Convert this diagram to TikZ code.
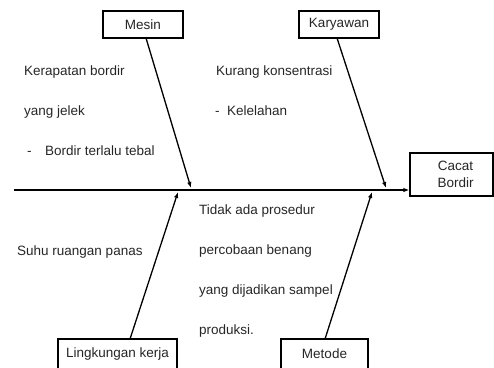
\documentclass[tikz,border=0pt]{standalone}
\usepackage{fontspec}
\setmainfont{Liberation Sans}
\usetikzlibrary{arrows.meta,calc}
\begin{document}
\begin{tikzpicture}[x=1pt,y=-1pt,
  catbox/.style={draw=black,line width=1.3pt,fill=white,inner sep=0pt,align=center,
     font=\fontsize{13.5}{16.5}\selectfont,text=black!85},
  lbl/.style={anchor=base west,inner sep=0pt,font=\fontsize{13.5}{16.5}\selectfont,text=black!85},
  bone/.style={line width=1.3pt,-{Latex[length=6pt,width=4.5pt]}}]
\useasboundingbox (0,0) rectangle (494,367);
% boxes
\node[catbox,minimum width=80pt,minimum height=27pt] (mesin) at (143,24.5) {Mesin};
\node[catbox,minimum width=80pt,minimum height=27pt] (kary) at (339,24.5) {Karyawan};
\node[catbox,minimum width=83pt,minimum height=43pt] (cacat) at (451.5,174.5) {\hspace*{8pt}Cacat\\\hspace*{8pt}Bordir};
\node[catbox,minimum width=119pt,minimum height=30pt] (ling) at (117.5,354) {Lingkungan kerja};
\node[catbox,minimum width=87pt,minimum height=30pt] (meto) at (324.5,354) {Metode};
% coordinates
\coordinate (tail) at (14,190);
\coordinate (ms) at (146,38);
\coordinate (me) at (191,188);
\coordinate (ks) at (337,38);
\coordinate (ke) at (386,188);
\coordinate (ls) at (130,339);
\coordinate (le) at (178,192);
\coordinate (ts) at (325,339);
\coordinate (te) at (372,192);
% spine and bones
\draw[bone] (tail) -- (tail -| cacat.west);
\draw[bone] (ms) -- (me);
\draw[bone] (ks) -- (ke);
\draw[bone] (ls) -- (le);
\draw[bone] (ts) -- (te);
% labels
\node[lbl] (t1) at (24,75) {Kerapatan bordir};
\node[lbl] (t2) at (24,115) {yang jelek};
\node[lbl] (t3) at (27,155) {-};
\node[lbl] (t4) at (45,155) {Bordir terlalu tebal};
\node[lbl] (t5) at (216,75) {Kurang konsentrasi};
\node[lbl] (t6) at (215,115) {- \ Kelelahan};
\node[lbl] (t7) at (17,255) {Suhu ruangan panas};
\node[lbl] (t8) at (199,214) {Tidak ada prosedur};
\node[lbl] (t9) at (199,254) {percobaan benang};
\node[lbl] (t10) at (199,294) {yang dijadikan sampel};
\node[lbl] (t11) at (199,334) {produksi.};
\end{tikzpicture}
\end{document}
